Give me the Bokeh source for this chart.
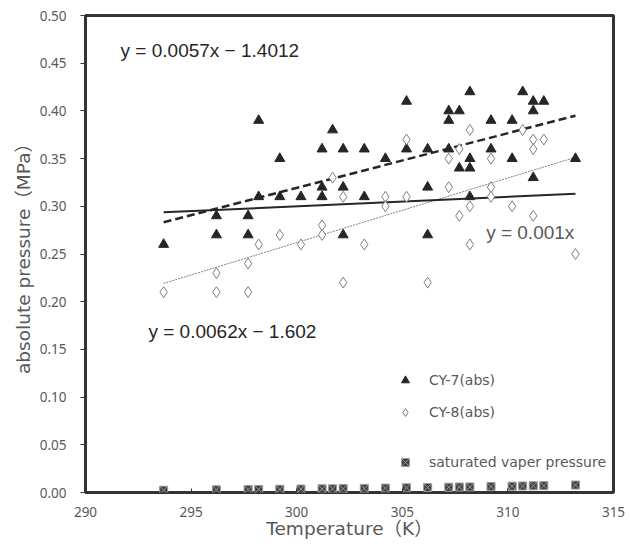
import numpy as np
from bokeh.plotting import figure
from bokeh.models import Range1d, FixedTicker, NumeralTickFormatter, Legend, LegendItem, Label
from bokeh.embed import file_html
from bokeh.resources import INLINE

# ---------------- data ----------------
cy7_T = [293.7, 296.2, 296.2, 297.7, 297.7, 298.2, 298.2, 299.2, 299.2, 300.2,
         301.2, 301.2, 301.2, 301.7, 302.2, 302.2, 302.2, 303.2, 303.2, 304.2,
         305.2, 305.2, 306.2, 306.2, 306.2, 307.2, 307.2, 307.2, 307.7, 307.7,
         308.2, 308.2, 308.2, 308.2, 309.2, 309.2, 310.2, 310.2, 310.7, 311.2,
         311.2, 311.2, 311.7, 313.2]
cy7_P = [0.26, 0.29, 0.27, 0.29, 0.27, 0.39, 0.31, 0.35, 0.31, 0.31,
         0.36, 0.32, 0.31, 0.38, 0.36, 0.32, 0.27, 0.36, 0.31, 0.35,
         0.41, 0.36, 0.36, 0.32, 0.27, 0.40, 0.39, 0.36, 0.40, 0.34,
         0.42, 0.35, 0.34, 0.31, 0.39, 0.36, 0.39, 0.35, 0.42, 0.41,
         0.40, 0.33, 0.41, 0.35]

cy8_T = [293.7, 296.2, 296.2, 297.7, 297.7, 298.2, 299.2, 300.2, 301.2, 301.2,
         301.7, 302.2, 302.2, 303.2, 304.2, 304.2, 305.2, 305.2, 306.2, 307.2,
         307.2, 307.7, 307.7, 308.2, 308.2, 308.2, 309.2, 309.2, 309.2, 310.2,
         310.7, 311.2, 311.2, 311.2, 311.7, 313.2]
cy8_P = [0.21, 0.23, 0.21, 0.24, 0.21, 0.26, 0.27, 0.26, 0.28, 0.27,
         0.33, 0.31, 0.22, 0.26, 0.31, 0.30, 0.37, 0.31, 0.22, 0.35,
         0.32, 0.36, 0.29, 0.38, 0.30, 0.26, 0.35, 0.32, 0.31, 0.30,
         0.38, 0.37, 0.36, 0.29, 0.37, 0.25]

sat_T = [293.7, 296.2, 297.7, 298.2, 299.2, 300.2, 301.2, 301.7, 302.2, 303.2,
         304.2, 305.2, 306.2, 307.2, 307.7, 308.2, 309.2, 310.2, 310.7, 311.2,
         311.7, 313.2]
sat_P = [0.0024, 0.0028, 0.0031, 0.0032, 0.0034, 0.0036, 0.0038, 0.0039, 0.0041, 0.0043,
         0.0046, 0.0049, 0.0052, 0.0055, 0.0057, 0.0058, 0.0062, 0.0066, 0.0068, 0.0070,
         0.0072, 0.0078]

through_origin_slope = 0.001

eq_cy7 = "y = 0.0057x \u2212 1.4012"
eq_cy8 = "y = 0.0062x \u2212 1.602"
eq_origin = "y = 0.001x"

x_ticks = [290, 295, 300, 305, 310, 315]
y_ticks = [0.00, 0.05, 0.10, 0.15, 0.20, 0.25, 0.30, 0.35, 0.40, 0.45, 0.50]

# ---------------- figure ----------------
p = figure(width=630, height=546, output_backend="svg", toolbar_location=None,
           x_range=Range1d(290, 315), y_range=Range1d(0, 0.5),
           min_border_left=85, min_border_right=17, min_border_top=15, min_border_bottom=54)
p.background_fill_color = "white"
p.border_fill_color = "white"
p.outline_line_color = "#333333"
p.outline_line_width = 3
p.xgrid.grid_line_color = None
p.ygrid.grid_line_color = None

TICK_FONT = "Noto Sans"
LABEL_FONT = "'DejaVu Sans', 'Noto Sans CJK JP'"
for ax in (p.xaxis[0], p.yaxis[0]):
    ax.axis_line_color = None
    ax.minor_tick_line_color = None
    ax.major_tick_line_color = "#333333"
    ax.major_label_text_color = "#595959"
    ax.major_label_text_font = TICK_FONT
    ax.major_label_text_font_size = "13.5px"
    ax.axis_label_text_color = "#595959"
    ax.axis_label_text_font = LABEL_FONT
    ax.axis_label_text_font_size = "18.5px"
    ax.axis_label_text_font_style = "normal"

p.xaxis.ticker = FixedTicker(ticks=x_ticks)
p.xaxis.major_tick_in = 4
p.xaxis.major_tick_out = 0
p.xaxis.major_label_standoff = 14
p.xaxis.axis_label = "Temperature（K）"
p.xaxis.axis_label_standoff = -2

p.yaxis.ticker = FixedTicker(ticks=y_ticks)
p.yaxis.formatter = NumeralTickFormatter(format="0.00")
p.yaxis.major_tick_in = 0
p.yaxis.major_tick_out = 5
p.yaxis.major_label_standoff = 14
p.yaxis.axis_label = "absolute pressure（MPa）"
p.yaxis.axis_label_standoff = 3

# trendlines from data
def fit_line(xs, ys):
    k, b = np.polyfit(xs, ys, 1)
    x0, x1 = min(xs), max(xs)
    return [x0, x1], [k * x0 + b, k * x1 + b]

lx, ly = fit_line(cy7_T, cy7_P)
p.line(lx, ly, line_color="#262626", line_width=2.5, line_dash="8 4")
lx8, ly8 = fit_line(cy8_T, cy8_P)
p.line(lx8, ly8, line_color="#7f7f7f", line_width=1, line_dash="2 1")
ox = [min(cy7_T), max(cy7_T)]
p.line(ox, [through_origin_slope * v for v in ox], line_color="#262626", line_width=2)

# points
r7 = p.scatter(cy7_T, cy7_P, marker="triangle", size=10, fill_color="#262626", line_color="#262626")
r8 = p.scatter(cy8_T, cy8_P, marker="diamond", size=11, fill_color="white", line_color="#7f7f7f", line_width=1)
rs = p.scatter(sat_T, sat_P, marker="square_x", size=8, fill_color="#404040", line_color="#9a9a9a", line_width=1)

# equation labels
EQ_FONT = "Liberation Sans"
p.add_layout(Label(x=291.66, y=0.4633, text=eq_cy7, text_font=EQ_FONT, text_font_size="19px",
                   text_color="#262626", text_baseline="middle"))
p.add_layout(Label(x=292.98, y=0.1688, text=eq_cy8, text_font=EQ_FONT, text_font_size="19px",
                   text_color="#262626", text_baseline="middle"))
p.add_layout(Label(x=308.97, y=0.2729, text=eq_origin, text_font=EQ_FONT, text_font_size="19px",
                   text_color="#595959", text_baseline="middle"))

# legends
def make_legend(items, loc):
    lg = Legend(items=items, location=loc, margin=0, padding=0, spacing=12,
                glyph_height=20, glyph_width=20, label_height=20, label_standoff=14,
                label_text_font="DejaVu Sans", label_text_font_size="14px", label_text_color="#595959",
                background_fill_alpha=0, border_line_color=None)
    return lg

leg1 = make_legend([LegendItem(label="CY-7(abs)", renderers=[r7]),
                    LegendItem(label="CY-8(abs)", renderers=[r8])], (310, 70))
leg2 = make_legend([LegendItem(label="saturated vaper pressure", renderers=[rs])], (310, 20))
p.add_layout(leg1, "center")
p.add_layout(leg2, "center")

open("out.html", "w").write(file_html(p, INLINE))
